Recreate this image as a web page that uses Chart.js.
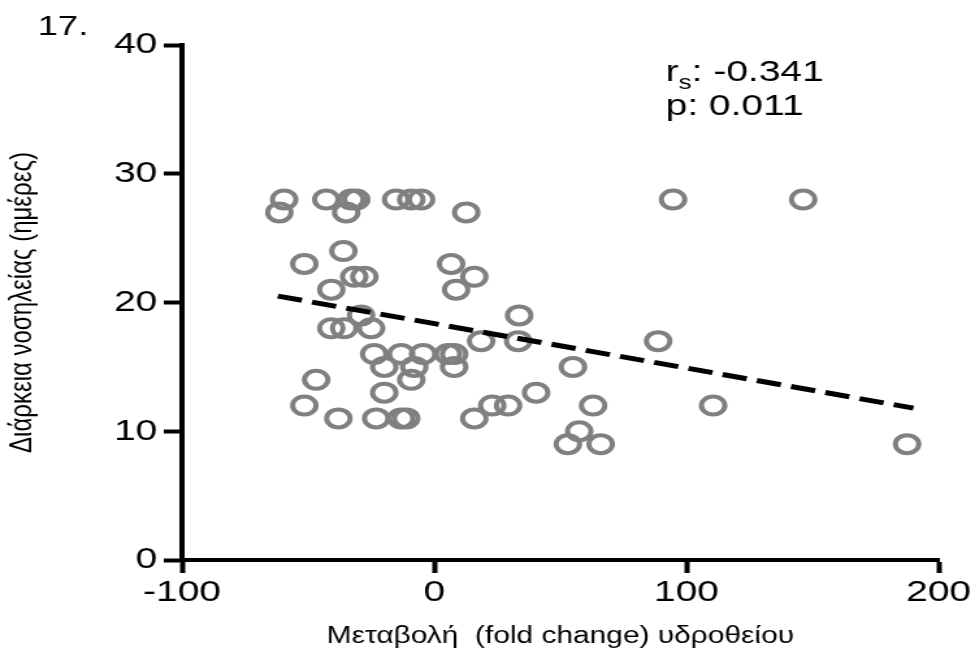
<!DOCTYPE html>
<html lang="el">
<head>
<meta charset="UTF-8">
<title>Διάρκεια νοσηλείας</title>
<script src="https://cdn.jsdelivr.net/npm/chart.js"></script>
<style>
  html, body { margin: 0; padding: 0; background: #fff; overflow: hidden; }
  #wrap { width: 974px; height: 656px; overflow: hidden; }
  #chart { transform-origin: 0 0; }
</style>
</head>
<body>
<div id="wrap"><canvas id="chart"></canvas></div>
<script>
// labels and text
const panelLabel = '17.';
const xTitle = 'Μεταβολή  (fold change) υδροθείου';
const yTitle = 'Διάρκεια νοσηλείας (ημέρες)';
const rsValue = '-0.341';
const pValue = '0.011';

// axis ticks
const xTicks = [-100, 0, 100, 200];
const yTicks = [0, 10, 20, 30, 40];

// one entry per patient
const foldChange = [
  -59.5, -42.8, -32.9, -30.9, -15.1, -9.1, -5.2, 94.7, 146.3,
  -61.4, -34.9, 12.7,
  -36,
  -51.5, 6.7,
  -31.7, -27.7, 15.9,
  -40.8, 8.7,
  -29, 33.7,
  -40.8, -35.7, -25,
  18.6, 33.3, 88.8,
  -23.8, -13.1, -4.4, 5.5, 7.9,
  -19.8, -7.9, 7.9, 55,
  -46.8, -9.1,
  -19.8, 40.4,
  -51.5, 23, 29.3, 63, 110.6,
  -38, -23, -13.1, -11.1, 15.9,
  57.5,
  53, 66, 187.5
];
const stayDays = [
  28, 28, 28, 28, 28, 28, 28, 28, 28,
  27, 27, 27,
  24,
  23, 23,
  22, 22, 22,
  21, 21,
  19, 19,
  18, 18, 18,
  17, 17, 17,
  16, 16, 16, 16, 16,
  15, 15, 15, 15,
  14, 14,
  13, 13,
  12, 12, 12, 12, 12,
  11, 11, 11, 11, 11,
  10,
  9, 9, 9
];

// fitted trend line end points
const trendX = [-62, 190];
const trendY = [20.5, 11.8];

// the figure is drawn narrow and widened horizontally
const STRETCH = 1.3;
const W = Math.round(974 / STRETCH);
const H = 656;
const FONT = "'Liberation Sans', Arial, Helvetica, sans-serif";

const canvas = document.getElementById('chart');
canvas.width = W;
canvas.height = H;
canvas.style.transform = 'scaleX(' + STRETCH + ')';

const notes = {
  id: 'notes',
  afterDraw(chart) {
    const ctx = chart.ctx;
    ctx.save();
    ctx.fillStyle = '#000';
    ctx.textBaseline = 'alphabetic';
    ctx.textAlign = 'left';

    ctx.font = '28px ' + FONT;
    ctx.fillText(panelLabel, 29, 35);

    let x = 512;
    ctx.font = '30px ' + FONT;
    ctx.fillText('r', x, 81);
    x += ctx.measureText('r').width;
    ctx.font = '20px ' + FONT;
    ctx.fillText('s', x, 89);
    x += ctx.measureText('s').width;
    ctx.font = '30px ' + FONT;
    ctx.fillText(': ' + rsValue, x, 81);
    ctx.fillText('p: ' + pValue, 512, 115);
    ctx.restore();
  }
};

const points = foldChange.map((v, i) => ({ x: v, y: stayDays[i] }));
const trend = trendX.map((v, i) => ({ x: v, y: trendY[i] }));

new Chart(canvas, {
  type: 'scatter',
  data: {
    datasets: [
      {
        data: trend,
        showLine: true,
        borderColor: '#000',
        borderWidth: 5,
        borderDash: [19, 8],
        pointRadius: 0,
        fill: false
      },
      {
        data: points,
        showLine: false,
        pointRadius: 9,
        pointBorderWidth: 4,
        pointBorderColor: '#808080',
        pointBackgroundColor: 'rgba(0,0,0,0)'
      }
    ]
  },
  options: {
    responsive: false,
    animation: false,
    events: [],
    layout: { padding: { top: 45, right: 27, bottom: 0, left: 0 } },
    plugins: {
      legend: { display: false },
      tooltip: { enabled: false }
    },
    scales: {
      x: {
        type: 'linear',
        min: xTicks[0],
        max: xTicks[xTicks.length - 1],
        afterBuildTicks(scale) { scale.ticks = xTicks.map(v => ({ value: v })); },
        afterFit(scale) { scale.height = 96; scale.paddingLeft = 0; scale.paddingRight = 0; },
        ticks: { color: '#000', font: { family: FONT, size: 30 }, padding: 2, maxRotation: 0 },
        grid: { drawOnChartArea: false, drawTicks: true, tickLength: 13, tickWidth: 4, tickColor: '#000' },
        border: { display: true, color: '#000', width: 4 },
        title: {
          display: true, text: xTitle, color: '#000',
          font: { family: FONT, size: 23 }, padding: { top: 0, bottom: 6 }
        }
      },
      y: {
        type: 'linear',
        min: yTicks[0],
        max: yTicks[yTicks.length - 1],
        afterBuildTicks(scale) { scale.ticks = yTicks.map(v => ({ value: v })); },
        afterFit(scale) { scale.width = 140; scale.paddingTop = 0; scale.paddingBottom = 0; },
        ticks: { color: '#000', font: { family: FONT, size: 30 }, padding: 5 },
        grid: { drawOnChartArea: false, drawTicks: true, tickLength: 14, tickWidth: 4, tickColor: '#000' },
        border: { display: true, color: '#000', width: 4 },
        title: {
          display: true, text: yTitle, color: '#000',
          font: { family: FONT, size: 24 }, padding: { top: 3, bottom: 0 }
        }
      }
    }
  },
  plugins: [notes]
});
</script>
</body>
</html>
